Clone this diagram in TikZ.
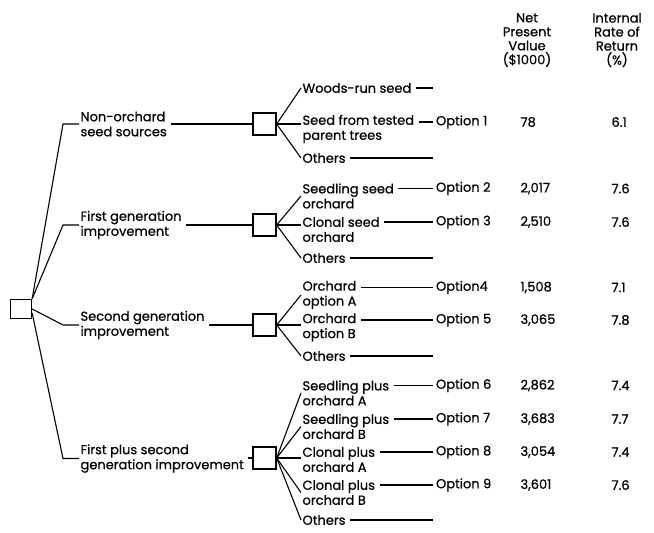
\documentclass[tikz,border=0pt]{standalone}
\usepackage{fontspec}
\setmainfont{Poppins}[FakeBold=0.7]
\usetikzlibrary{positioning, calc}

\begin{document}
\begin{tikzpicture}[x=1pt, y=-1pt, line width=1.1pt,
    choice/.style={draw, line width=1.3pt, minimum width=23pt, minimum height=22pt, inner sep=0pt},
    lbl/.style={anchor=west, align=left, inner sep=1pt, font=\fontsize{13}{15}\selectfont},
    opt/.style={anchor=west, inner sep=2.5pt, font=\fontsize{13}{15}\selectfont},
    num/.style={anchor=west, inner sep=0pt, font=\fontsize{13}{15}\selectfont},
    head/.style={align=center, font=\fontsize{13}{14}\selectfont},
    tail/.style={shorten <=3pt}]
\useasboundingbox (0,0) rectangle (654,533);

% Column headings
\node[head] (npv) at (527,40) {Net\\Present\\Value\\(\$1000)};
\node[head] (irr) at (617,40) {Internal\\Rate of\\Return\\(\%)};

% Decision boxes
\node[choice, minimum width=21pt, minimum height=19pt] (root) at (21,309) {};
\node[choice] (b1) at (264.5,124) {};
\node[choice] (b2) at (264.5,225) {};
\node[choice] (b3) at (264.5,325) {};
\node[choice] (b4) at (264.5,458) {};

% First level
\node[lbl] (n1) at (79,124) {Non-orchard\\seed sources};
\node[lbl] (n2) at (79,225) {First generation\\improvement};
\node[lbl] (n3) at (79,325) {Second generation\\improvement};
\node[lbl] (n4) at (79,458.5) {First plus second\\generation improvement};

\draw (root.north east) -- ([xshift=-16pt]n1.west) -- (n1.west);
\draw (root.north east) -- ([xshift=-16pt]n2.west) -- (n2.west);
\draw (root.east) -- ([xshift=-16pt]n3.west) -- (n3.west);
\draw (root.-20) -- ([xshift=-16pt]n4.west) -- (n4.west);
\foreach \i in {1,...,4}
    \draw[tail] (n\i.east |- b\i.west) -- (b\i.west);

% Second level
\node[lbl] (w1) at (301,88) {Woods-run seed};
\node[lbl] (s1) at (301,129) {Seed from tested\\parent trees};
\node[lbl] (o1) at (301,158) {Others};
\node[lbl] (s2) at (301,196) {Seedling seed\\orchard};
\node[lbl] (s3) at (301,229.5) {Clonal seed\\orchard};
\node[lbl] (o2) at (301,258) {Others};
\node[lbl] (s4) at (301,295) {Orchard\\option A};
\node[lbl] (s5) at (301,327.5) {Orchard\\option B};
\node[lbl] (o3) at (301,356) {Others};
\node[lbl] (s6) at (301,393) {Seedling plus\\orchard A};
\node[lbl] (s7) at (301,426.5) {Seedling plus\\orchard B};
\node[lbl] (s8) at (301,459.5) {Clonal plus\\orchard A};
\node[lbl] (s9) at (301,492.5) {Clonal plus\\orchard B};
\node[lbl] (o4) at (301,520) {Others};

\draw (b1.east) -- (w1.west);
\draw (b1.east) -- (b1.east -| s1.west);
\draw (b1.east) -- (o1.west);
\draw (b2.east) -- (s2.west);
\draw (b2.east) -- (b2.east -| s3.west);
\draw (b2.east) -- (o2.west);
\draw (b3.east) -- (s4.west);
\draw (b3.east) -- (b3.east -| s5.west);
\draw (b3.east) -- (o3.west);
\draw (b4.east) -- (s6.west);
\draw (b4.east) -- (s7.west);
\draw (b4.east) -- (b4.east -| s8.west);
\draw (b4.east) -- (s9.west);
\draw (b4.east) -- (o4.west);

% Options with their values
\coordinate (e0) at (433,0);
\foreach \n/\t/\y/\v/\r in {1/Option 1/122/78/6.1, 2/Option 2/188.5/2{,}017/7.6,
        3/Option 3/222/2{,}510/7.6, 4/Option4/287.5/1{,}508/7.1,
        5/Option 5/320/3{,}065/7.8, 6/Option 6/385.5/2{,}862/7.4,
        7/Option 7/419/3{,}683/7.7, 8/Option 8/452/3{,}054/7.4,
        9/Option 9/485/3{,}601/7.6} {
    \node[opt] (op\n) at (433,\y) {\t};
    \node[num] (v\n) at (520,\y) {\v};
    \node[num] (r\n) at (611,\y) {\r};
    \draw[tail] (s\n.east |- op\n.west) -- (op\n.west);
}

% Unpriced branches
\foreach \k in {w1,o1,o2,o3,o4}
    \draw[tail] (\k.east) -- (\k.east -| e0);
\end{tikzpicture}
\end{document}
